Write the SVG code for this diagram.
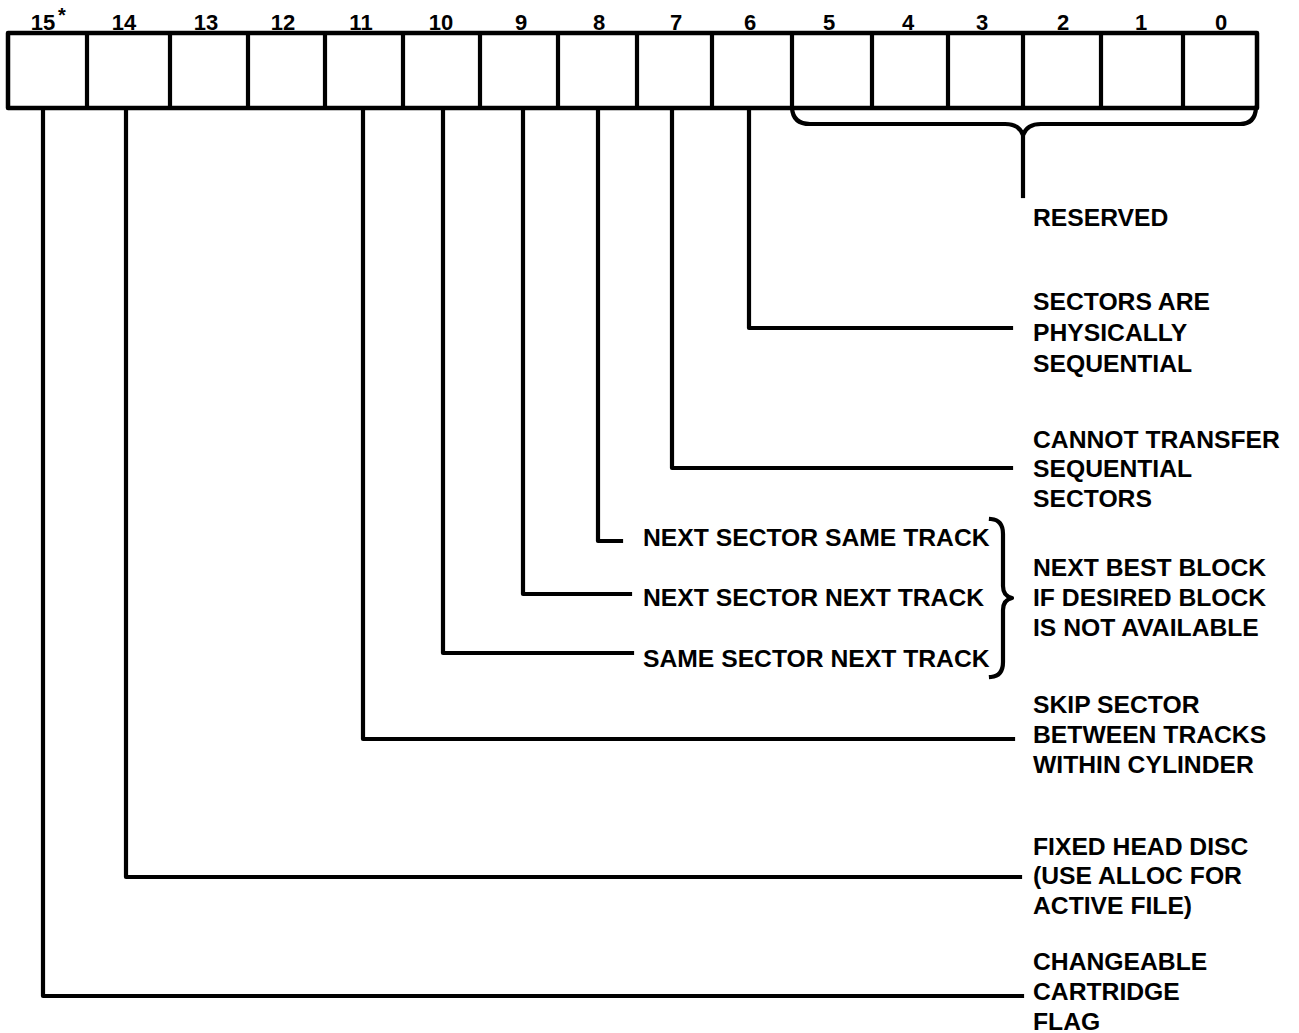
<svg xmlns="http://www.w3.org/2000/svg" width="1299" height="1033" viewBox="0 0 1299 1033">
<style>
.ln{fill:none;stroke:#000;stroke-width:4.2;stroke-linejoin:round;stroke-linecap:square}
.bx{fill:#fff;stroke:#000;stroke-width:4.5;stroke-linejoin:round}
.num{font-family:"Liberation Sans",Arial,sans-serif;font-weight:bold;font-size:22px;text-anchor:middle;fill:#000}
.lbl{font-family:"Liberation Sans",Arial,sans-serif;font-weight:bold;font-size:24.7px;fill:#000}
</style>
<rect width="1299" height="1033" fill="#fff"/>
<g id="register">
<rect class="bx" x="8" y="33" width="1249" height="75"/>
<path class="ln" d="M87 33V108M170 33V108M248 33V108M325 33V108M403 33V108M480 33V108M558 33V108M637 33V108M712 33V108M792 33V108M872 33V108M948 33V108M1023 33V108M1101 33V108M1183 33V108"/>
<g id="bit-numbers">
<text class="num" x="43" y="30">15</text><text class="num" x="62" y="22" style="font-size:20px">*</text>
<text class="num" x="124" y="30">14</text>
<text class="num" x="206" y="30">13</text>
<text class="num" x="283" y="30">12</text>
<text class="num" x="361" y="30">11</text>
<text class="num" x="441" y="30">10</text>
<text class="num" x="521" y="30">9</text>
<text class="num" x="599" y="30">8</text>
<text class="num" x="676" y="30">7</text>
<text class="num" x="750" y="30">6</text>
<text class="num" x="829" y="30">5</text>
<text class="num" x="908" y="30">4</text>
<text class="num" x="982" y="30">3</text>
<text class="num" x="1063" y="30">2</text>
<text class="num" x="1141" y="30">1</text>
<text class="num" x="1221" y="30">0</text>
</g>
</g>
<g id="connectors">
<path class="ln" d="M792 108Q793 124 810 124L1005 124Q1019 124 1023 135Q1027 124 1041 124L1240 124Q1255 124 1256 108"/>
<path class="ln" d="M1023 135V196"/>
<path class="ln" d="M749 108V328H1011"/>
<path class="ln" d="M672 108V468H1011"/>
<path class="ln" d="M598 108V541H621"/>
<path class="ln" d="M523 108V594H630"/>
<path class="ln" d="M443 108V653H632"/>
<path class="ln" d="M363 108V739H1013"/>
<path class="ln" d="M126 108V877H1020"/>
<path class="ln" d="M43 108V996H1022"/>
<path class="ln" d="M991 519Q1003 520 1003 534L1003 586Q1003 596 1012 598Q1003 600 1003 610L1003 662Q1003 676 991 677"/>
</g>
<g id="reserved"><text class="lbl" x="1033" y="226">RESERVED</text></g>
<g id="bit6"><text class="lbl" x="1033" y="310">SECTORS ARE</text><text class="lbl" x="1033" y="341">PHYSICALLY</text><text class="lbl" x="1033" y="372">SEQUENTIAL</text></g>
<g id="bit7"><text class="lbl" x="1033" y="448">CANNOT TRANSFER</text><text class="lbl" x="1033" y="477">SEQUENTIAL</text><text class="lbl" x="1033" y="507">SECTORS</text></g>
<g id="bit8"><text class="lbl" x="643" y="546">NEXT SECTOR SAME TRACK</text></g>
<g id="bit9"><text class="lbl" x="643" y="606">NEXT SECTOR NEXT TRACK</text></g>
<g id="bit10"><text class="lbl" x="643" y="667">SAME SECTOR NEXT TRACK</text></g>
<g id="next-best"><text class="lbl" x="1033" y="576">NEXT BEST BLOCK</text><text class="lbl" x="1033" y="606">IF DESIRED BLOCK</text><text class="lbl" x="1033" y="636">IS NOT AVAILABLE</text></g>
<g id="bit11"><text class="lbl" x="1033" y="713">SKIP SECTOR</text><text class="lbl" x="1033" y="743">BETWEEN TRACKS</text><text class="lbl" x="1033" y="773">WITHIN CYLINDER</text></g>
<g id="bit14"><text class="lbl" x="1033" y="855">FIXED HEAD DISC</text><text class="lbl" x="1033" y="884">(USE ALLOC FOR</text><text class="lbl" x="1033" y="914">ACTIVE FILE)</text></g>
<g id="bit15"><text class="lbl" x="1033" y="970">CHANGEABLE</text><text class="lbl" x="1033" y="1000">CARTRIDGE</text><text class="lbl" x="1033" y="1030">FLAG</text></g>
</svg>
